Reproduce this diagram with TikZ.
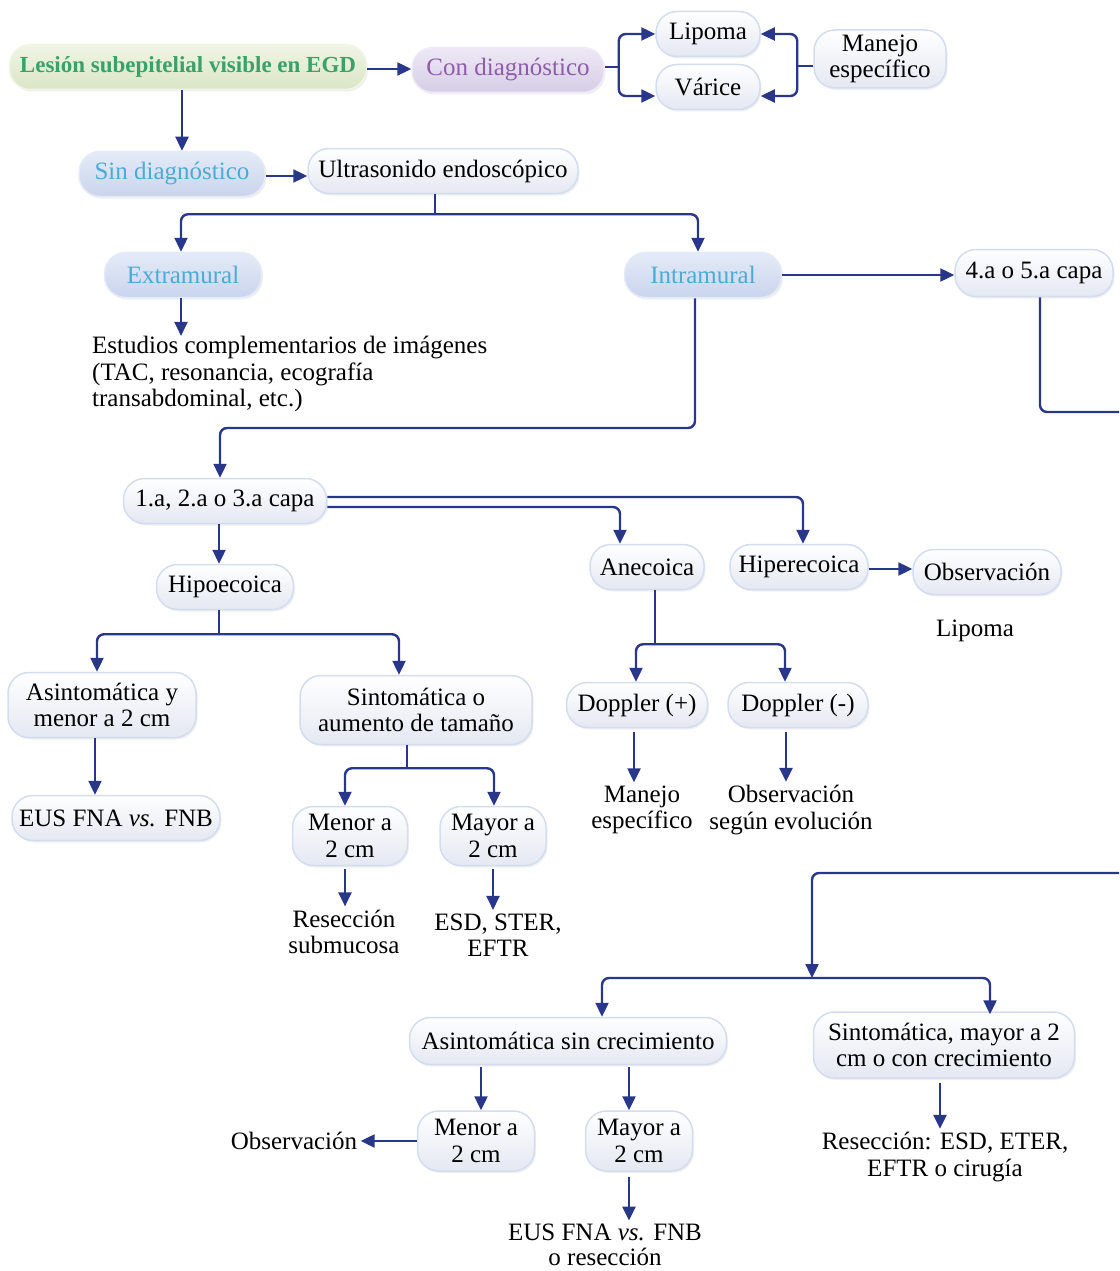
\documentclass[tikz,border=0pt]{standalone}
\usepackage{fontspec}
\setmainfont{Liberation Serif}
\usetikzlibrary{arrows.meta,calc,shadows}
\definecolor{arrowc}{RGB}{40,55,138}
\definecolor{boxedge}{RGB}{212,220,240}
\definecolor{boxbot}{RGB}{228,232,242}
\definecolor{greent}{RGB}{58,162,104}
\definecolor{greentop}{RGB}{240,245,228}
\definecolor{greenbot}{RGB}{218,230,198}
\definecolor{purpt}{RGB}{142,92,168}
\definecolor{purptop}{RGB}{238,233,246}
\definecolor{purpbot}{RGB}{214,205,230}
\definecolor{cyant}{RGB}{74,172,212}
\definecolor{cyantop}{RGB}{228,235,248}
\definecolor{cyanbot}{RGB}{202,212,236}
\tikzset{
  txt/.style={font=\fontsize{25}{26.5}\selectfont, align=center, text=black},
  box/.style={txt, rounded corners=21pt, draw=boxedge, line width=1.5pt,
    top color=white, bottom color=boxbot, inner xsep=5pt, inner ysep=4pt,
    minimum height=45pt,
    drop shadow={opacity=0.12, shadow xshift=1.5pt, shadow yshift=-2pt}},
  greenbox/.style={box, draw=greentop, top color=greentop, bottom color=greenbot, text=greent},
  purpbox/.style={box, draw=purptop, top color=purptop, bottom color=purpbot, text=purpt},
  cyanbox/.style={box, draw=cyantop, top color=cyantop, bottom color=cyanbot, text=cyant},
  conn/.style={draw=arrowc, line width=2.4pt, rounded corners=7pt},
  arr/.style={conn, -{Triangle[length=14pt,width=13pt]}},
}
\begin{document}
\begin{tikzpicture}[x=1pt,y=-1pt]
\useasboundingbox (0,0) rectangle (1119,1271);

% ---- nodes
\node[greenbox, minimum width=357pt, font=\fontsize{23}{25}\selectfont\bfseries] (title) at (188,67) {Lesión subepitelial visible en EGD};
\node[purpbox, minimum width=192pt] (con) at (508,70) {Con diagnóstico};
\node[box, minimum width=104pt] (lipoma) at (708,34) {Lipoma};
\node[box, minimum width=104pt] (varice) at (708,87) {Várice};
\node[box, minimum width=132pt, minimum height=58pt] (manejo1) at (880,59) {Manejo\\específico};
\node[cyanbox, minimum width=186pt] (sin) at (172,174) {Sin diagnóstico};
\node[box, minimum width=270pt] (ultra) at (443,171) {Ultrasonido endoscópico};
\node[cyanbox, minimum width=157pt] (extra) at (183,275) {Extramural};
\node[cyanbox, minimum width=157pt] (intra) at (703,275) {Intramural};
\node[box, minimum width=158pt, minimum height=47pt] (capa45) at (1034,273) {4.a o 5.a capa};
\node[txt, align=left, anchor=west, inner sep=0pt] (estudios) at (92,374) {Estudios complementarios de imágenes\\(TAC, resonancia, ecografía\\transabdominal, etc.)};
\node[box, minimum width=203pt] (capa123) at (225,501) {1.a, 2.a o 3.a capa};
\node[box, minimum width=137pt] (hipo) at (225,587) {Hipoecoica};
\node[box, minimum width=114pt] (anec) at (647,567) {Anecoica};
\node[box, minimum width=138pt] (hiper) at (799,567) {Hiperecoica};
\node[box, minimum width=148pt] (obs1) at (987,572) {Observación};
\node[txt] (lipoma2) at (975,631) {Lipoma};
\node[box, minimum width=188pt, minimum height=65pt] (asint) at (102,705) {Asintomática y\\menor a 2 cm};
\node[box, minimum width=232pt, minimum height=69pt] (sint) at (416,710) {Sintomática o\\aumento de tamaño};
\node[box, minimum width=141pt] (dpos) at (637,705) {Doppler (+)};
\node[box, minimum width=140pt] (dneg) at (798,705) {Doppler (-)};
\node[box, minimum width=208pt] (eus1) at (116,818) {EUS FNA \textit{vs.} FNB};
\node[box, minimum width=115pt, minimum height=59pt] (menor1) at (350,836) {Menor a\\2 cm};
\node[box, minimum width=106pt, minimum height=59pt] (mayor1) at (493,836) {Mayor a\\2 cm};
\node[txt] (manejo2) at (642,810) {Manejo\\específico};
\node[txt] (obs2) at (791,810) {Observación\\según evolución};
\node[txt] (resec1) at (344,932) {Resección\\submucosa};
\node[txt] (esd) at (498,935) {ESD, STER,\\EFTR};
\node[box, minimum width=317pt, minimum height=47pt] (asintsin) at (568,1041) {Asintomática sin crecimiento};
\node[box, minimum width=261pt, minimum height=66pt] (sintmay) at (944,1045) {Sintomática, mayor a 2\\cm o con crecimiento};
\node[box, minimum width=117pt, minimum height=60pt] (menor2) at (476,1141) {Menor a\\2 cm};
\node[box, minimum width=107pt, minimum height=60pt] (mayor2) at (639,1141) {Mayor a\\2 cm};
\node[txt] (obs3) at (294,1141) {Observación};
\node[txt, font=\fontsize{25}{25}\selectfont] (eus2) at (605,1245) {EUS FNA \textit{vs.} FNB\\o resección};
\node[txt] (resec2) at (945,1157) {Resección: ESD, ETER,\\EFTR o cirugía};

\coordinate (edgeA) at (1119,412);
\coordinate (edgeB) at (1119,873);

% ---- connectors
\draw[arr] ([yshift=-2pt]title.east) -- ([yshift=-2pt]title.east -| con.west);
\draw[arr] ([xshift=-6pt]title.south) -- ([xshift=-6pt]title.south |- sin.north);
\draw[conn] ([yshift=3pt]con.east) -- ++(14,0) coordinate (jc);
\draw[arr] (jc) |- (lipoma.west);
\draw[arr] (jc) |- ([yshift=-9pt]varice.west);
\draw[conn] ([yshift=-7pt]manejo1.west) -- ++(-16,0) coordinate (jm);
\draw[arr] (jm) |- (lipoma.east);
\draw[arr] (jm) |- ([yshift=-9pt]varice.east);
\draw[arr] ([yshift=-2pt]sin.east) -- ([yshift=-2pt]sin.east -| ultra.west);
\draw[conn] ([xshift=-8pt]ultra.south) -- ++(0,20) coordinate (ju);
\draw[arr] (ju) -| ([xshift=-2pt]extra.north);
\draw[arr] (ju) -| ([xshift=-5pt]intra.north);
\draw[arr] ([xshift=-2pt]extra.south) -- ([xshift=-2pt]extra.south |- estudios.north);
\draw[arr] (intra.east) -- (intra.east -| capa45.west);
\draw[conn] ([xshift=6pt]capa45.south) |- (edgeA);
\coordinate (ji) at (220,428);
\draw[arr] ([xshift=-8pt]intra.south) |- (ji) -- (ji |- capa123.north);
\draw[arr] ([xshift=-6pt]capa123.south) -- ([xshift=-6pt]capa123.south |- hipo.north);
\draw[arr] ([yshift=-6pt]capa123.east) -| ($(anec.north)+(-27,0)$);
\draw[arr] ([yshift=4pt]capa123.east) -| ($(hiper.north)+(4,0)$);
\draw[arr] ([yshift=-2pt]hiper.east) -- ([yshift=-2pt]hiper.east -| obs1.west);
\draw[conn] ([xshift=-6pt]hipo.south) -- ++(0,24) coordinate (jh);
\draw[arr] (jh) -| ([xshift=-5pt]asint.north);
\draw[arr] (jh) -| ([xshift=-17pt]sint.north);
\draw[conn] ([xshift=8pt]anec.south) -- ++(0,54) coordinate (ja);
\draw[arr] (ja) -| ([xshift=-1pt]dpos.north);
\draw[arr] (ja) -| ([xshift=-13pt]dneg.north);
\draw[arr] ([xshift=-7pt]asint.south) -- ([xshift=-7pt]asint.south |- eus1.north);
\draw[conn] ([xshift=-9pt]sint.south) -- ++(0,23) coordinate (js);
\draw[arr] (js) -| ([xshift=-5pt]menor1.north);
\draw[arr] (js) -| ([xshift=1pt]mayor1.north);
\draw[arr] ([xshift=-3pt,yshift=-4pt]dpos.south) -- ([xshift=-3pt]dpos.south |- manejo2.north);
\draw[arr] ([xshift=-12pt,yshift=-4pt]dneg.south) -- ([xshift=-12pt]dneg.south |- obs2.north);
\draw[arr] ([xshift=-5pt,yshift=-3pt]menor1.south) -- ([xshift=-5pt]menor1.south |- resec1.north);
\draw[arr] ([yshift=-3pt]mayor1.south) -- (mayor1.south |- esd.north);
\coordinate (j4) at (812,978);
\draw[arr] (edgeB) -| (j4);
\draw[arr] (j4) -| ($(asintsin.north)+(34,0)$);
\draw[arr] (j4) -| ($(sintmay.north)+(46,3)$);
\draw[arr] ([xshift=-87pt,yshift=-2pt]asintsin.south) -- ([xshift=-87pt]asintsin.south |- menor2.north);
\draw[arr] ([xshift=61pt,yshift=-2pt]asintsin.south) -- ([xshift=61pt]asintsin.south |- mayor2.north);
\draw[arr] (menor2.west) -- (menor2.west -| obs3.east);
\draw[arr] ([xshift=-10pt,yshift=-5pt]mayor2.south) -- ([xshift=-10pt]mayor2.south |- eus2.north);
\draw[arr] ([xshift=-4pt,yshift=-4pt]sintmay.south) -- ([xshift=-4pt]sintmay.south |- resec2.north);
\end{tikzpicture}
\end{document}
